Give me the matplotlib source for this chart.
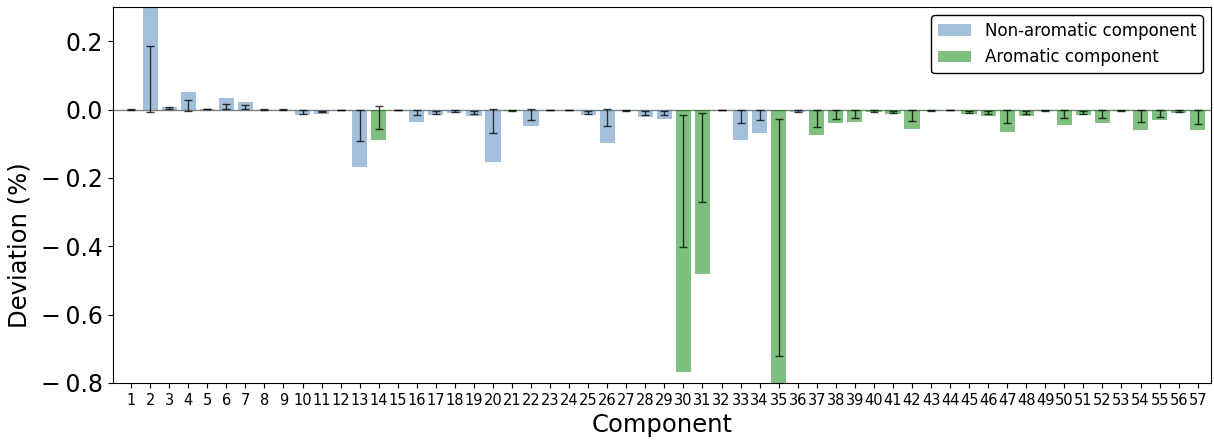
import matplotlib
matplotlib.use("Agg")
import matplotlib.pyplot as plt
import numpy as np

# Component ids and whether each one is aromatic
components = np.arange(1, 58)
aromatic = [0, 0, 0, 0, 0, 0, 0, 0, 0, 0,
            0, 0, 0, 1, 0, 0, 0, 0, 0, 0,
            1, 0, 0, 0, 0, 0, 0, 0, 0, 1,
            1, 0, 0, 0, 1, 0, 1, 1, 1, 1,
            1, 1, 1, 1, 1, 1, 1, 1, 1, 1,
            1, 1, 1, 1, 1, 1, 1]

# Mean deviation (%) per component
deviation = [0.000, 0.350, 0.008, 0.050, 0.003, 0.034, 0.021, 0.000, 0.000, -0.017,
             -0.012, -0.002, -0.167, -0.088, -0.002, -0.037, -0.015, -0.010, -0.019, -0.152,
             -0.003, -0.049, -0.002, -0.002, -0.015, -0.099, -0.003, -0.022, -0.027, -0.767,
             -0.481, -0.002, -0.089, -0.070, -0.850, -0.007, -0.074, -0.040, -0.037, -0.007,
             -0.014, -0.057, -0.003, -0.002, -0.013, -0.019, -0.066, -0.020, -0.004, -0.044,
             -0.017, -0.039, -0.004, -0.060, -0.032, -0.009, -0.059]

# Error bar ends (low / high)
err_low = [-0.001, -0.008, 0.002, -0.003, 0.001, 0.002, 0.002, -0.001, -0.001, -0.012,
           -0.008, -0.002, -0.092, -0.056, -0.002, -0.017, -0.012, -0.008, -0.014, -0.070,
           -0.003, -0.030, -0.002, -0.002, -0.012, -0.048, -0.003, -0.015, -0.017, -0.401,
           -0.270, -0.002, -0.040, -0.032, -0.722, -0.006, -0.050, -0.028, -0.024, -0.006,
           -0.010, -0.033, -0.003, -0.002, -0.009, -0.014, -0.039, -0.014, -0.004, -0.026,
           -0.012, -0.024, -0.004, -0.036, -0.022, -0.008, -0.042]
err_high = [0.001, 0.185, 0.006, 0.029, 0.002, 0.017, 0.012, 0.001, 0.001, -0.002,
            -0.003, 0.000, 0.000, 0.011, 0.000, -0.002, -0.003, -0.002, -0.003, 0.003,
            -0.001, 0.003, -0.001, -0.001, -0.003, 0.003, -0.001, -0.003, -0.003, -0.017,
            -0.010, -0.001, 0.000, 0.000, -0.027, -0.002, -0.002, -0.002, -0.002, -0.002,
            -0.003, 0.000, -0.001, -0.001, -0.003, -0.003, 0.000, -0.003, -0.001, -0.002,
            -0.003, -0.002, -0.001, 0.000, -0.002, -0.002, 0.000]

yticks = [-0.8, -0.6, -0.4, -0.2, 0.0, 0.2]

blue = "steelblue"
green = "green"

fig = plt.figure(figsize=(12.14, 4.44), dpi=100)
ax = fig.add_axes([113 / 1214, 1 - 383 / 444, (1211 - 113) / 1214, (383 - 7) / 444])

aromatic = np.array(aromatic, dtype=bool)
deviation = np.array(deviation)
err_low = np.array(err_low)
err_high = np.array(err_high)

ax.axhline(0, color="gray", lw=1, zorder=1)

ax.bar(components[~aromatic], deviation[~aromatic], width=0.8, color=blue, alpha=0.5,
       label="Non-aromatic component", zorder=2)
ax.bar(components[aromatic], deviation[aromatic], width=0.8, color=green, alpha=0.5,
       label="Aromatic component", zorder=2)

# error bars are not centred on the bars, so draw them from their ends
mid = (err_low + err_high) / 2
half = (err_high - err_low) / 2
ax.errorbar(components, mid, yerr=half, fmt="none", ecolor="black", alpha=0.75,
            elinewidth=1, capsize=3, capthick=1, zorder=3)

ax.set_xlim(0.05, 57.7)
ax.set_ylim(-0.8, 0.3)
ax.set_xticks(components)
ax.set_xticklabels([str(c) for c in components], fontsize=10.5)

# slightly wider minus like the original
def fmt(v):
    s = "%.1f" % abs(v)
    return ("\u2212\u2009" + s) if v < 0 else s

ax.set_yticks(yticks)
ax.set_yticklabels([fmt(v) for v in yticks], fontsize=17)
ax.set_xlabel("Component", fontsize=17.5)
ax.set_ylabel("Deviation (%)", fontsize=17.5)
ax.yaxis.set_label_coords(-0.074, 0.367)

leg = ax.legend(loc="upper right", fontsize=12, fancybox=True, framealpha=1)
leg.get_frame().set_edgecolor("black")

fig.savefig("out.png", dpi=100)
